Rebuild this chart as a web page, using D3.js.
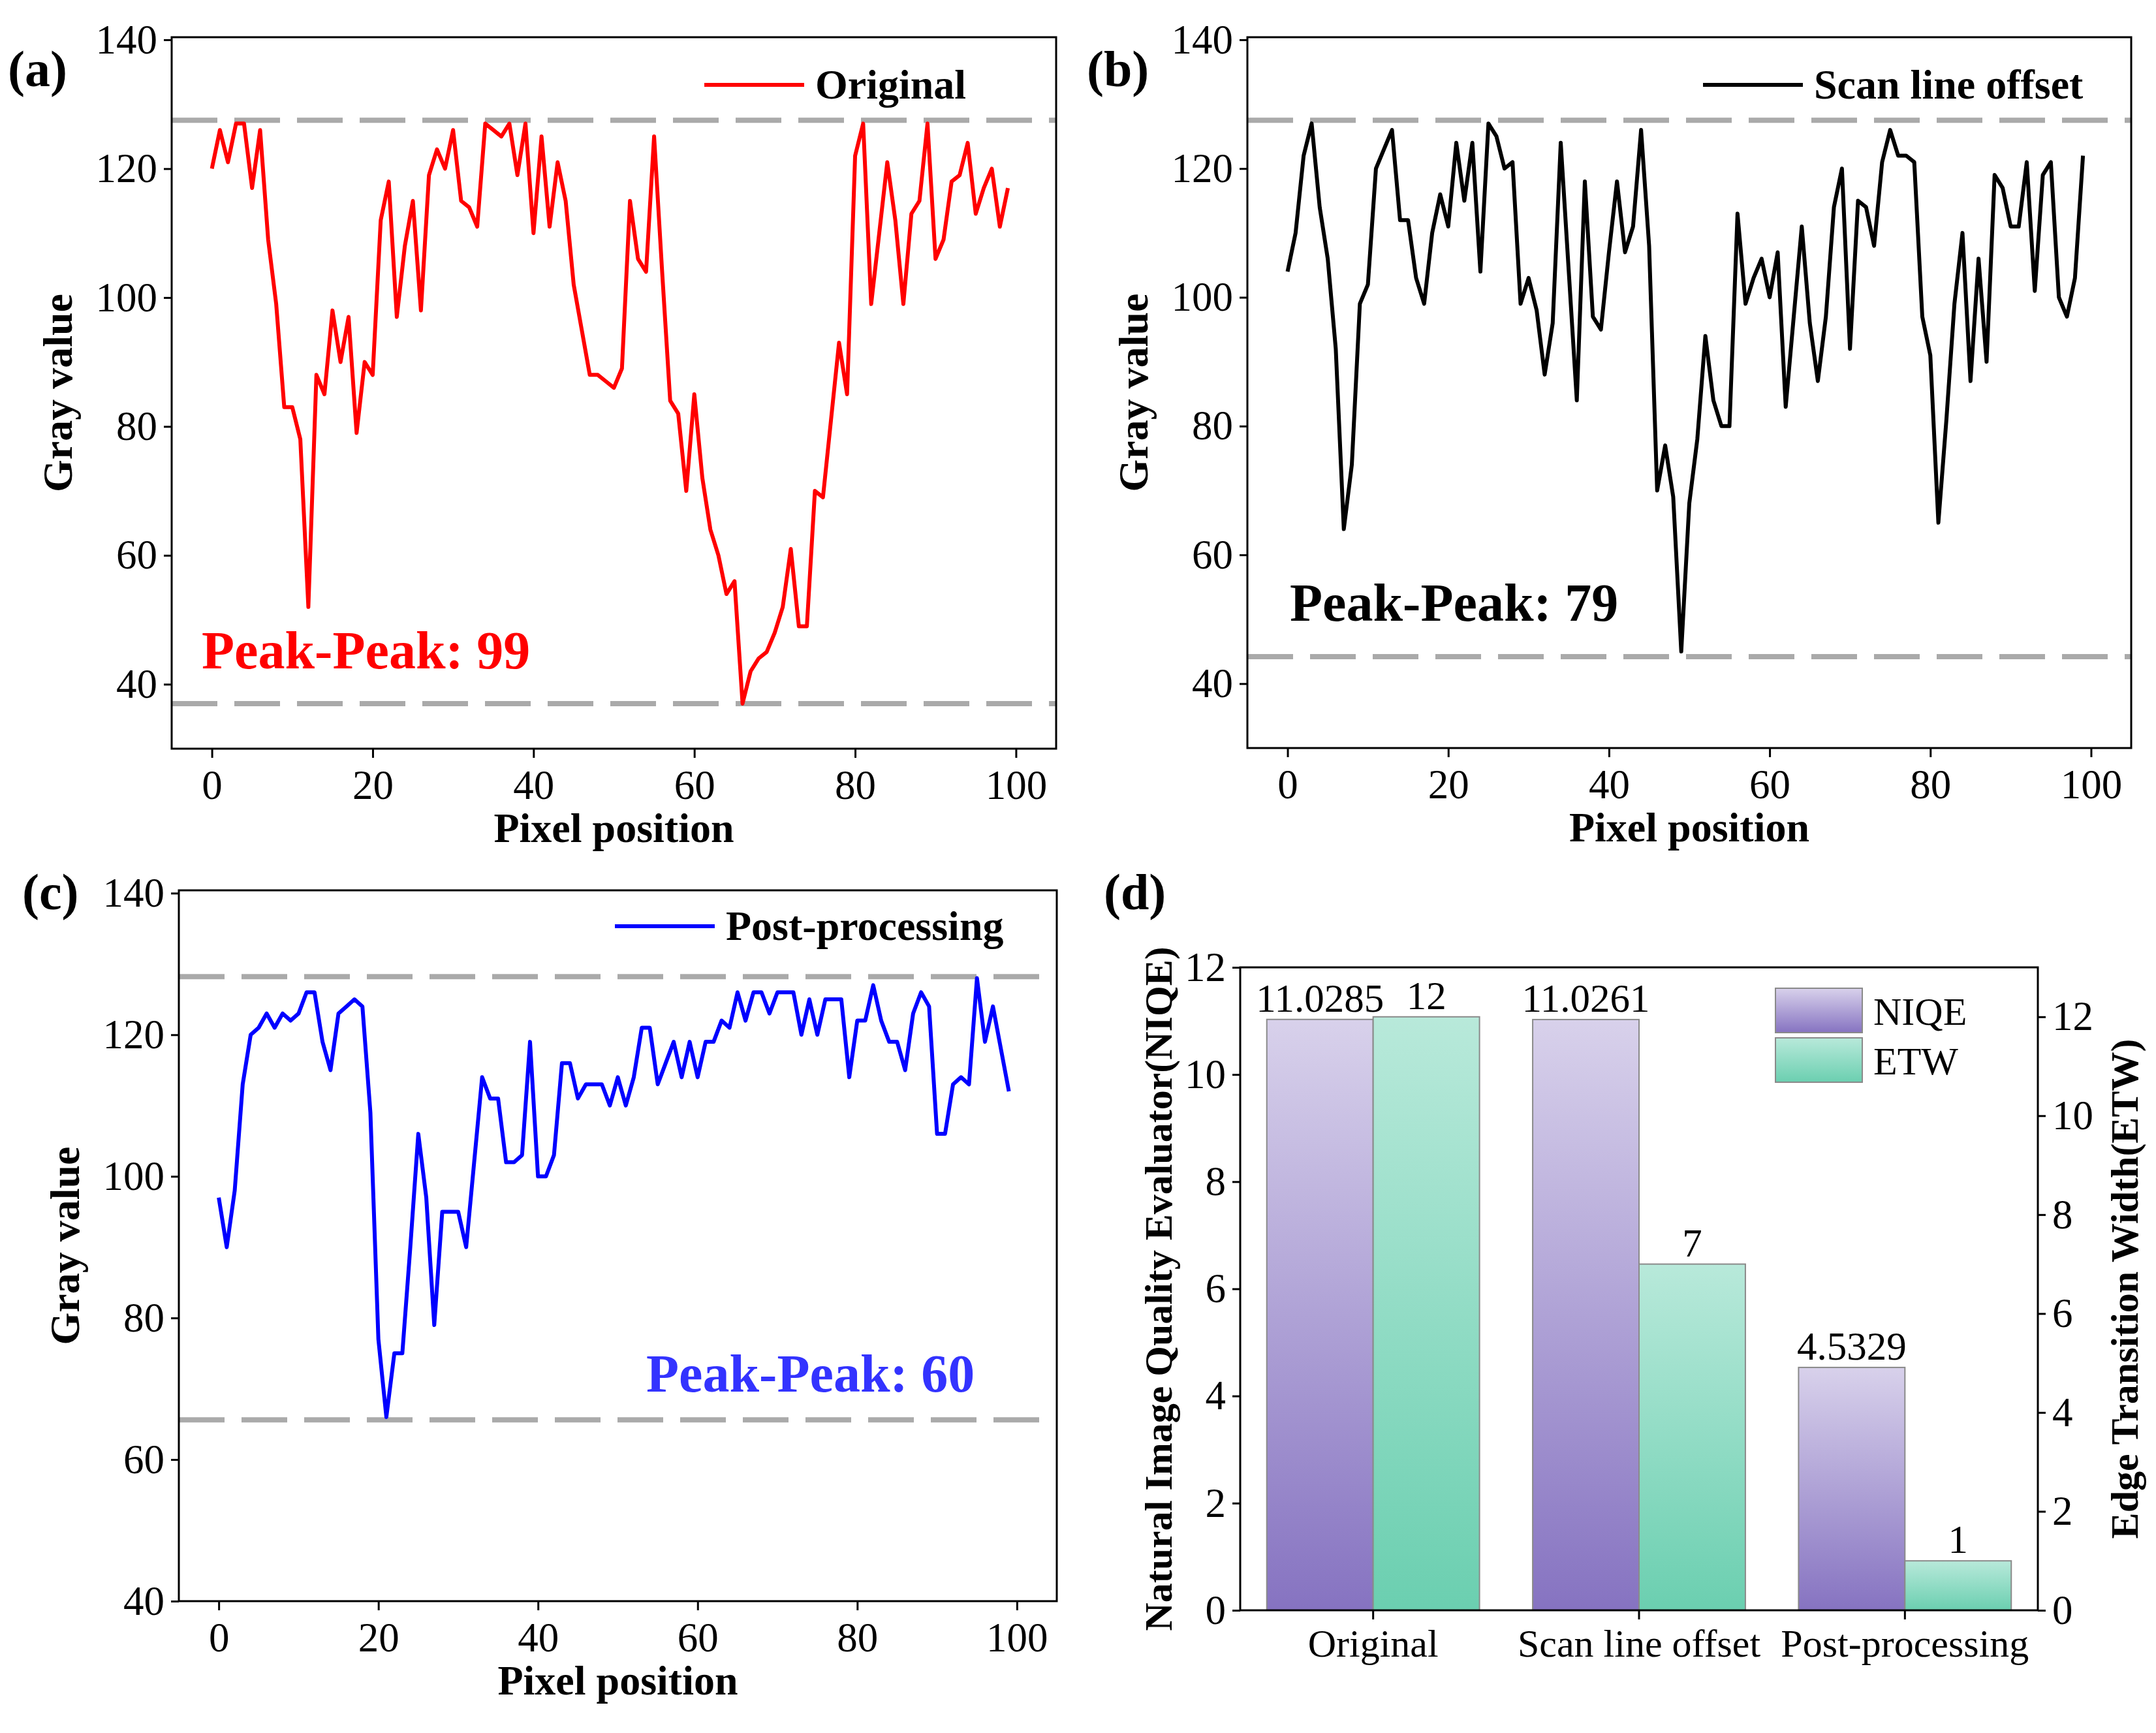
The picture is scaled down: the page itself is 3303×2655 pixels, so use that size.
<!DOCTYPE html>
<html>
<head>
<meta charset="utf-8">
<script src="https://cdn.jsdelivr.net/npm/d3@7"></script>
<style>
  body { margin: 0; background: #fff; }
  svg { display: block; font-family: "Liberation Serif", "Times New Roman", serif; }
  .tick text { font-size: 63px; fill: #000; font-family: "Liberation Serif", "Times New Roman", serif; }
  .tick line { stroke: #000; stroke-width: 3; }
  .domain { display: none; }
  .title { font-size: 64px; font-weight: bold; }
</style>
</head>
<body>
<div id="chart"></div>
<script>
// gray values (pixel 0..99)
var originalGray = [120,126,121,127,127,117,126,109,99,83, 83,78,52,88,85,98,90,97,79,90,
  88,112,118,97,108,115,98,119,123,120, 126,115,114,111,127,126,125,127,119,127,
  110,125,111,121,115,102,95,88,88,87, 86,89,115,106,104,125,104,84,82,70,
  85,72,64,60,54,56,37,42,44,45, 48,52,61,49,49,70,69,81,93,85,
  122,127,99,110,121,112,99,113,115,127, 106,109,118,119,124,113,117,120,111,117];

var scanOffsetGray = [104,110,122,127,114,106,92,64,74,99, 102,120,123,126,112,112,103,99,110,116,
  111,124,115,124,104,127,125,120,121,99, 103,98,88,96,124,104,84,118,97,95,
  107,118,107,111,126,108,70,77,69,45, 68,78,94,84,80,80,113,99,103,106,
  100,107,83,97,111,96,87,97,114,120, 92,115,114,108,121,126,122,122,121,97,
  91,65,81,99,110,87,106,90,119,117, 111,111,121,101,119,121,100,97,103,122];

var postGray = [97,90,98,113,120,121,123,121,123,122, 123,126,126,119,115,123,124,125,124,109,
  77,66,75,75,90,106,97,79,95,95, 95,90,102,114,111,111,102,102,103,119,
  100,100,103,116,116,111,113,113,113,110, 114,110,114,121,121,113,116,119,114,119,
  114,119,119,122,121,126,122,126,126,123, 126,126,126,120,125,120,125,125,125,114,
  122,122,127,122,119,119,115,123,126,124, 106,106,113,114,113,128,119,124,118,112];

// peak / valley reference levels (dashed lines)
var levelsA = [127.5, 37];
var levelsB = [127.5, 44.2];
var levelsC = [128.2, 65.6];

var pixelTicks = [0, 20, 40, 60, 80, 100];
var grayTicks = [40, 60, 80, 100, 120, 140];

// panel (d)
var methods = ["Original", "Scan line offset", "Post-processing"];
var niqeValues = [11.0285, 11.0261, 4.5329];
var etwValues = [12, 7, 1];
var niqeTicks = [0, 2, 4, 6, 8, 10, 12];
var etwTicks = [0, 2, 4, 6, 8, 10, 12];

var serif = "Liberation Serif, Times New Roman, serif";

var svg = d3.select("#chart").append("svg")
  .attr("width", 3303)
  .attr("height", 2655);

var defs = svg.append("defs");
function gradient(id, top, bottom) {
  var g = defs.append("linearGradient").attr("id", id)
    .attr("x1", 0).attr("y1", 0).attr("x2", 0).attr("y2", 1);
  g.append("stop").attr("offset", "0%").attr("stop-color", top);
  g.append("stop").attr("offset", "100%").attr("stop-color", bottom);
}
gradient("gradNiqe", "#d8d1eb", "#8673c1");
gradient("gradEtw", "#b8e9da", "#6bcfb0");

function linePanel(o) {
  var g = svg.append("g");
  var x = d3.scaleLinear().domain([-5, 105]).range([o.left, o.right]);
  var y = d3.scaleLinear().domain(o.yDomain).range([o.bottom, o.top]);

  g.append("text")
    .attr("x", o.labelX).attr("y", o.labelY)
    .style("font-size", "78px").style("font-weight", "bold")
    .text(o.label);

  o.levels.forEach(function(v) {
    g.append("line")
      .attr("x1", o.left).attr("x2", o.right)
      .attr("y1", y(v)).attr("y2", y(v))
      .attr("stroke", "#aaaaaa")
      .attr("stroke-width", 8)
      .attr("stroke-dasharray", "70,26");
  });

  var line = d3.line()
    .x(function(d, i) { return x(i); })
    .y(function(d) { return y(d); });

  g.append("path")
    .datum(o.values)
    .attr("fill", "none")
    .attr("stroke", o.color)
    .attr("stroke-width", 6)
    .attr("stroke-linejoin", "round")
    .attr("d", line);

  g.append("g")
    .attr("transform", "translate(0," + o.bottom + ")")
    .call(d3.axisBottom(x).tickValues(pixelTicks).tickSize(14).tickPadding(18))
    .attr("font-family", serif);

  g.append("g")
    .attr("transform", "translate(" + o.left + ",0)")
    .call(d3.axisLeft(y).tickValues(grayTicks).tickSize(12).tickPadding(10))
    .attr("font-family", serif);

  g.append("rect")
    .attr("x", o.left).attr("y", o.top)
    .attr("width", o.right - o.left).attr("height", o.bottom - o.top)
    .attr("fill", "none").attr("stroke", "#000").attr("stroke-width", 3);

  g.append("text")
    .attr("class", "title")
    .attr("text-anchor", "middle")
    .attr("x", (o.left + o.right) / 2)
    .attr("y", o.bottom + 143)
    .text("Pixel position");

  g.append("text")
    .attr("class", "title")
    .attr("text-anchor", "middle")
    .attr("transform", "translate(" + (o.left - 153) + "," + ((o.top + o.bottom) / 2) + ") rotate(-90)")
    .text("Gray value");

  // legend
  g.append("line")
    .attr("x1", o.legendX).attr("x2", o.legendX + 153)
    .attr("y1", o.legendY).attr("y2", o.legendY)
    .attr("stroke", o.color).attr("stroke-width", 6);
  g.append("text")
    .attr("x", o.legendX + 170).attr("y", o.legendY + 21)
    .style("font-size", "64px").style("font-weight", "bold")
    .text(o.name);

  g.append("text")
    .attr("x", o.peakX).attr("y", o.peakY)
    .attr("fill", o.peakColor)
    .style("font-size", "82px").style("font-weight", "bold")
    .text(o.peakText);
}

linePanel({
  label: "(a)", labelX: 12, labelY: 132,
  left: 263, right: 1618, top: 57, bottom: 1147, yDomain: [30, 140.4],
  values: originalGray, color: "#ff0000", levels: levelsA,
  name: "Original", legendX: 1079, legendY: 130,
  peakText: "Peak-Peak: 99", peakColor: "#ff0000", peakX: 309, peakY: 1024
});

linePanel({
  label: "(b)", labelX: 1665, labelY: 132,
  left: 1911, right: 3265, top: 57, bottom: 1146, yDomain: [30, 140.4],
  values: scanOffsetGray, color: "#000000", levels: levelsB,
  name: "Scan line offset", legendX: 2609, legendY: 130,
  peakText: "Peak-Peak: 79", peakColor: "#000000", peakX: 1976, peakY: 951
});

linePanel({
  label: "(c)", labelX: 34, labelY: 1393,
  left: 274, right: 1619, top: 1364, bottom: 2453, yDomain: [40, 140.4],
  values: postGray, color: "#0000ff", levels: levelsC,
  name: "Post-processing", legendX: 942, legendY: 1419,
  peakText: "Peak-Peak: 60", peakColor: "#3333ff", peakX: 990, peakY: 2132
});

// panel (d): dual axis bars
(function() {
  var left = 1900, right = 3122, top = 1482, bottom = 2467;
  var g = svg.append("g");

  g.append("text")
    .attr("x", 1691).attr("y", 1393)
    .style("font-size", "78px").style("font-weight", "bold")
    .text("(d)");

  var x = d3.scaleBand().domain(methods).range([left, right]).padding(0);
  var xs = d3.scaleBand().domain(["NIQE", "ETW"]).range([0, x.bandwidth()])
    .paddingInner(0).paddingOuter(0.25);
  var yL = d3.scaleLinear().domain([0, 12]).range([bottom, top]);
  var yR = d3.scaleLinear().domain([0, 13]).range([bottom, top]);

  var groups = g.selectAll(".grp")
    .data(methods)
    .enter().append("g")
    .attr("transform", function(d) { return "translate(" + x(d) + ",0)"; });

  groups.append("rect")
    .attr("x", xs("NIQE"))
    .attr("width", xs.bandwidth())
    .attr("y", function(d, i) { return yL(niqeValues[i]); })
    .attr("height", function(d, i) { return bottom - yL(niqeValues[i]); })
    .attr("fill", "url(#gradNiqe)")
    .attr("stroke", "#8a8a8a").attr("stroke-width", 2);

  groups.append("rect")
    .attr("x", xs("ETW"))
    .attr("width", xs.bandwidth())
    .attr("y", function(d, i) { return yR(etwValues[i]); })
    .attr("height", function(d, i) { return bottom - yR(etwValues[i]); })
    .attr("fill", "url(#gradEtw)")
    .attr("stroke", "#8a8a8a").attr("stroke-width", 2);

  groups.append("text")
    .attr("text-anchor", "middle")
    .attr("x", xs("NIQE") + xs.bandwidth() / 2)
    .attr("y", function(d, i) { return yL(niqeValues[i]) - 12; })
    .style("font-size", "61px")
    .text(function(d, i) { return niqeValues[i].toFixed(4); });

  groups.append("text")
    .attr("text-anchor", "middle")
    .attr("x", xs("ETW") + xs.bandwidth() / 2)
    .attr("y", function(d, i) { return yR(etwValues[i]) - 12; })
    .style("font-size", "61px")
    .text(function(d, i) { return etwValues[i]; });

  g.append("g")
    .attr("transform", "translate(0," + bottom + ")")
    .call(d3.axisBottom(x).tickSize(14).tickPadding(14))
    .attr("font-family", serif)
    .selectAll("text").style("font-size", "60px");

  g.append("g")
    .attr("transform", "translate(" + left + ",0)")
    .call(d3.axisLeft(yL).tickValues(niqeTicks).tickSize(12).tickPadding(10))
    .attr("font-family", serif);

  g.append("g")
    .attr("transform", "translate(" + right + ",0)")
    .call(d3.axisRight(yR).tickValues(etwTicks).tickSize(12).tickPadding(10))
    .attr("font-family", serif);

  g.append("rect")
    .attr("x", left).attr("y", top)
    .attr("width", right - left).attr("height", bottom - top)
    .attr("fill", "none").attr("stroke", "#000").attr("stroke-width", 3);

  g.append("text")
    .attr("class", "title").style("font-size", "60px")
    .attr("text-anchor", "middle")
    .attr("transform", "translate(1795," + ((top + bottom) / 2) + ") rotate(-90)")
    .text("Natural Image Quality Evaluator(NIQE)");

  g.append("text")
    .attr("class", "title").style("font-size", "60px")
    .attr("text-anchor", "middle")
    .attr("transform", "translate(3275," + ((top + bottom) / 2) + ") rotate(-90)")
    .text("Edge Transition Width(ETW)");

  // legend
  var legend = [["NIQE", "url(#gradNiqe)"], ["ETW", "url(#gradEtw)"]];
  legend.forEach(function(l, i) {
    g.append("rect")
      .attr("x", 2720).attr("y", 1514 + i * 76)
      .attr("width", 133).attr("height", 68)
      .attr("fill", l[1])
      .attr("stroke", "#8a8a8a").attr("stroke-width", 2);
    g.append("text")
      .attr("x", 2870).attr("y", 1570 + i * 76)
      .style("font-size", "60px")
      .text(l[0]);
  });
})();
</script>
</body>
</html>
